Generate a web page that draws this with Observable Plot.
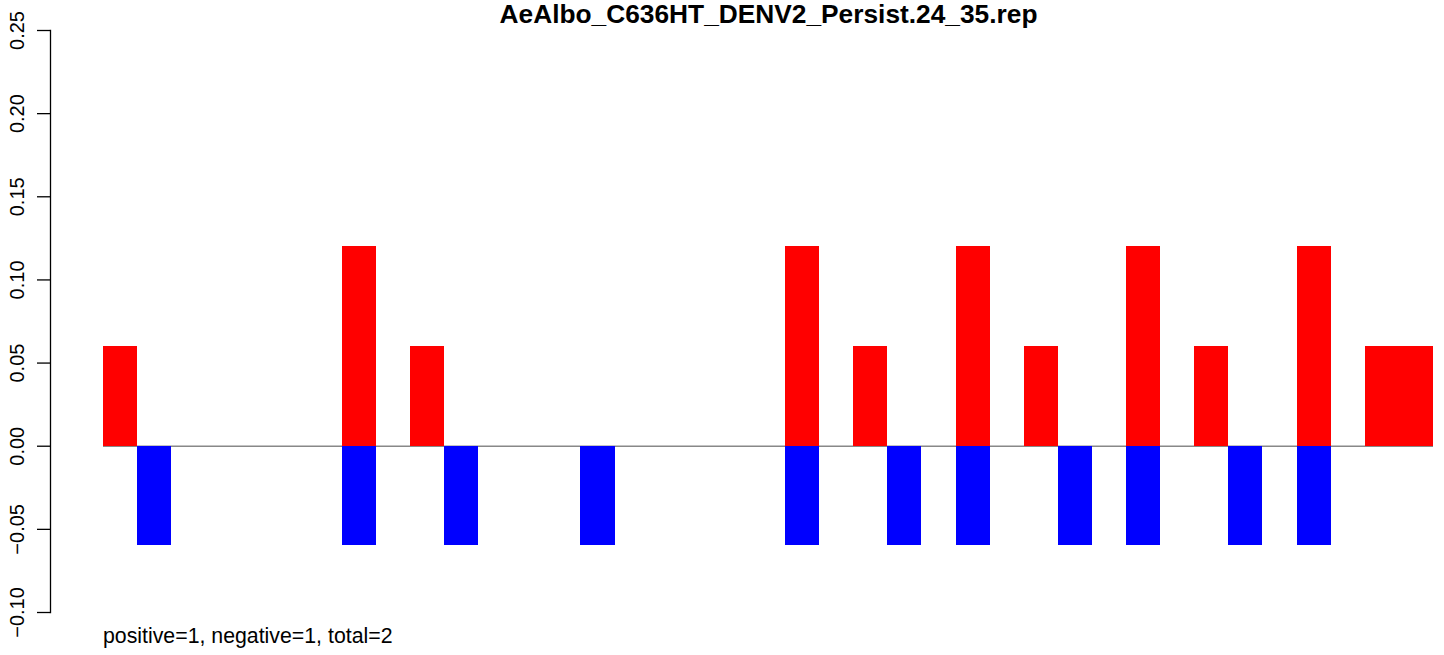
<!DOCTYPE html>
<html>
<head>
<meta charset="utf-8">
<script src="https://cdn.jsdelivr.net/npm/d3@7"></script>
<script src="https://cdn.jsdelivr.net/npm/@observablehq/plot@0.6"></script>
<style>
  html, body { margin: 0; padding: 0; background: #fff; }
  #wrap { position: relative; width: 1444px; height: 655px; font-family: "Liberation Sans", Arial, Helvetica, sans-serif; color: #000; }
  #title { position: absolute; left: 0; top: 1px; width: 1537px; text-align: center; font-weight: bold; font-size: 26.3px; line-height: 26px; white-space: nowrap; }
  #foot { position: absolute; left: 103px; top: 626px; font-size: 21.3px; line-height: 21px; white-space: nowrap; }
  #chart { position: absolute; left: 0; top: 0; }
</style>
</head>
<body>
<div id="wrap">
  <div id="chart"></div>
  <div id="title"></div>
  <div id="foot"></div>
</div>
<script>
// ---- data ----
const title = "AeAlbo_C636HT_DENV2_Persist.24_35.rep";
const footnote = "positive=1, negative=1, total=2";
// 39 bar slots (left to right)
const positive = [0.06,0,0,0,0,0,0,0.12,0,0.06,
                  0,0,0,0,0,0,0,0,0,0,
                  0.12,0,0.06,0,0,0.12,0,0.06,0,0,
                  0.12,0,0.06,0,0,0.12,0,0.06,0.06];
const negative = [0,-0.06,0,0,0,0,0,-0.06,0,0,
                  -0.06,0,0,0,-0.06,0,0,0,0,0,
                  -0.06,0,0,-0.06,0,-0.06,0,0,-0.06,0,
                  -0.06,0,0,-0.06,0,-0.06,0,0,0];
const yTicks = [-0.10, -0.05, 0.00, 0.05, 0.10, 0.15, 0.20, 0.25];
const yDomain = [-0.10, 0.25];

// ---- build ----
const nSlots = positive.length;
const posData = positive.map((v, i) => ({i, v})).filter(d => d.v !== 0);
const negData = negative.map((v, i) => ({i, v})).filter(d => d.v !== 0);

document.getElementById("title").textContent = title;
document.getElementById("foot").textContent = footnote;

const chart = Plot.plot({
  width: 1444,
  height: 655,
  marginTop: 30,
  marginBottom: 43,
  marginLeft: 50,
  marginRight: 0,
  style: {fontFamily: '"Liberation Sans", Arial, Helvetica, sans-serif', fontSize: "20px", background: "#fff", color: "#000"},
  x: {domain: [0, nSlots], range: [103, 1433], axis: null},
  y: {domain: yDomain, axis: null},
  marks: [
    Plot.frame({anchor: "left", stroke: "#000", strokeWidth: 1.3}),
    Plot.axisY(yTicks, {
      anchor: "left",
      label: null,
      tickSize: 13,
      tickPadding: 14,
      tickRotate: -90,
      strokeWidth: 1.3,
      tickFormat: d3.format(".2f"),
      fontSize: 20
    }),
    Plot.ruleY([0], {x1: 0, x2: nSlots, stroke: "#888", strokeWidth: 1.5}),
    Plot.rectY(posData, {x1: "i", x2: d => d.i + 1, y: "v", fill: "#ff0000", inset: 0, shapeRendering: "crispEdges"}),
    Plot.rectY(negData, {x1: "i", x2: d => d.i + 1, y: "v", fill: "#0000ff", inset: 0, shapeRendering: "crispEdges"})
  ]
});
document.getElementById("chart").appendChild(chart);
</script>
</body>
</html>
